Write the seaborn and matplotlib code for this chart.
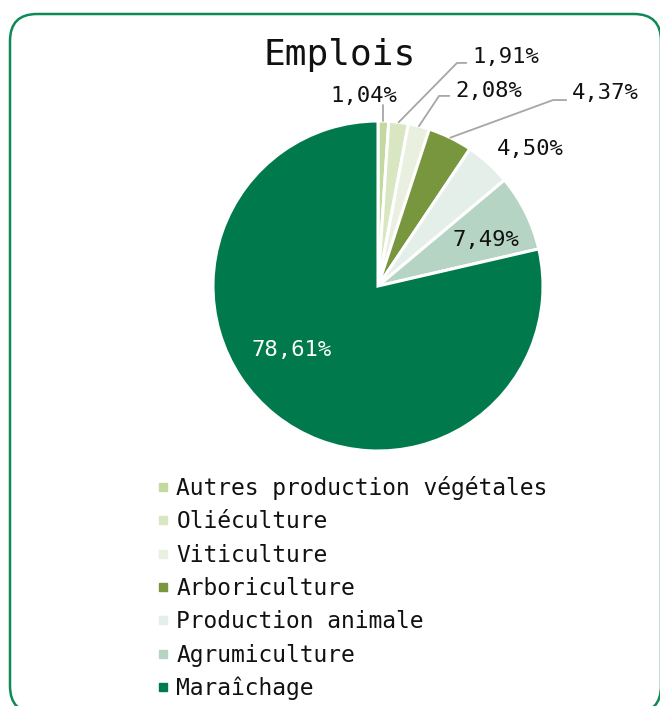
import matplotlib
matplotlib.use("Agg")
import matplotlib.pyplot as plt
import seaborn as sns
import numpy as np
from matplotlib.patches import FancyBboxPatch
from matplotlib.lines import Line2D

# data
categories = ["Autres production végétales", "Oliéculture", "Viticulture", "Arboriculture",
              "Production animale", "Agrumiculture", "Maraîchage"]
shares = [1.04, 1.91, 2.08, 4.37, 4.50, 7.49, 78.61]
colors = ["#c3d9a0", "#d9e6c2", "#eaf0df", "#78963e", "#e5efea", "#b6d4c4", "#007a4d"]

sns.set_theme(style="white")
plt.rcParams['font.family'] = ['DejaVu Sans Mono', 'DejaVu Sans']

W, H = 660, 706
fig = plt.figure(figsize=(W / 100, H / 100), dpi=100)

# rounded frame (inches, from bottom-left)
frame = FancyBboxPatch((0.10, -0.07), 6.51, 6.99,
                       boxstyle="round,pad=0,rounding_size=0.27",
                       transform=fig.dpi_scale_trans, facecolor="none",
                       edgecolor="#0e8a57", linewidth=1.8, zorder=0)
fig.patches.append(frame)

# pie axes: center (378, 286), radius 165 px
cx, cy, r = 378, 286, 165
ax = fig.add_axes([(cx - r) / W, 1 - (cy + r) / H, 2 * r / W, 2 * r / H])
wedges, _ = ax.pie(shares, colors=colors, startangle=90, counterclock=False,
                   wedgeprops=dict(edgecolor="white", linewidth=2.2))
ax.set_xlim(-1, 1)
ax.set_ylim(-1, 1)
ax.set_aspect("equal")
ax.axis("off")

# label layout: (x, y, ha, elbow) in pie units; elbow None means no leader line
layout = [
    (-0.085, 1.15, "center", (0.0, 1.097)),
    (0.57, 1.385, "left", (0.479, 1.352)),
    (0.467, 1.18, "left", (0.370, 1.152)),
    (1.176, 1.17, "left", (1.061, 1.127)),
    (0.921, 0.83, "center", None),
    (0.655, 0.28, "center", None),
    (-0.521, -0.388, "center", None),
]

for w, val, (tx, ty, ha, elbow) in zip(wedges, shares, layout):
    lab = f"{val:.2f}%".replace(".", ",")
    col = "white" if val > 50 else "#111111"
    ax.text(tx, ty, lab, ha=ha, va="center", fontsize=16, color=col, clip_on=False)
    if elbow is not None:
        mid = np.deg2rad((w.theta1 + w.theta2) / 2)
        sx, sy = np.cos(mid), np.sin(mid)
        ex, ey = elbow
        if ex == 0.0:
            ex = sx
            xs, ys = [sx, ex], [sy, ey]
        else:
            xs, ys = [sx, ex, tx - 0.035], [sy, ey, ey]
        ax.add_line(Line2D(xs, ys, color="#a6a6a6", linewidth=1.3, clip_on=False))

fig.text(340 / W, 1 - 55 / H, "Emplois", ha="center", va="center", fontsize=26, color="#111111")

handles = [Line2D([], [], marker="s", linestyle="", markersize=6, color=c) for c in colors]
fig.legend(handles, categories, loc="upper left", bbox_to_anchor=(157 / W, 1 - 476 / H),
           frameon=False, fontsize=16.5, handlelength=0.55, handletextpad=0.3,
           labelspacing=0.45, borderaxespad=0, borderpad=0, labelcolor="#111111")

fig.savefig("out.png", dpi=100)
